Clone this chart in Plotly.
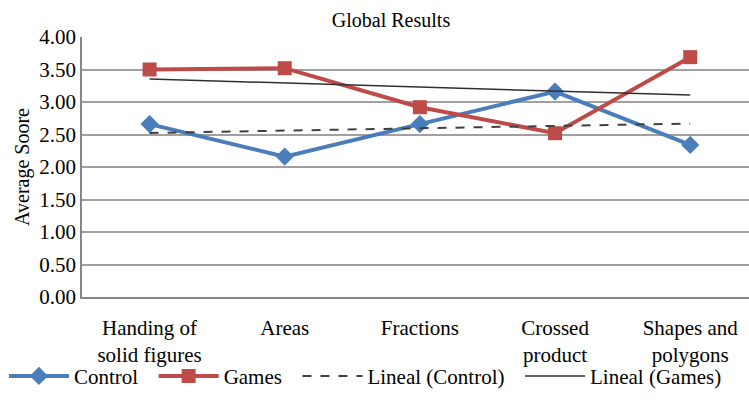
import numpy as np
import plotly.graph_objects as go

categories = ["Handing of<br>solid figures", "Areas", "Fractions", "Crossed<br>product", "Shapes and<br>polygons"]
series_names = ["Control", "Games", "Lineal (Control)", "Lineal (Games)"]
control = [2.66, 2.16, 2.66, 3.16, 2.34]
games = [3.50, 3.52, 2.92, 2.52, 3.69]
y_ticks = [0.0, 0.5, 1.0, 1.5, 2.0, 2.5, 3.0, 3.5, 4.0]

idx = np.arange(len(categories))

def linear_trend(values):
    slope, intercept = np.polyfit(idx, values, 1)
    return list(slope * idx + intercept)

# non-breaking spaces widen the gap between legend entries
PAD = "\u00a0\u00a0"
legend_names = [n + PAD for n in series_names[:3]] + [series_names[3]]

FONT = "Times New Roman, Liberation Serif, serif"
BLUE = "#4A7EBB"
RED = "#BE4B48"

fig = go.Figure()
fig.add_trace(go.Scatter(
    x=idx, y=control, name=legend_names[0], mode="lines+markers",
    line=dict(color=BLUE, width=4),
    marker=dict(symbol="diamond", size=14, color=BLUE),
))
fig.add_trace(go.Scatter(
    x=idx, y=games, name=legend_names[1], mode="lines+markers",
    line=dict(color=RED, width=4),
    marker=dict(symbol="square", size=14, color=RED),
))
fig.add_trace(go.Scatter(
    x=idx, y=linear_trend(control), name=legend_names[2], mode="lines",
    line=dict(color="#404040", width=2, dash="dash"),
))
fig.add_trace(go.Scatter(
    x=idx, y=linear_trend(games), name=legend_names[3], mode="lines",
    line=dict(color="#303030", width=1.5),
))

fig.update_layout(
    width=749, height=415,
    margin=dict(l=82, r=0, t=37, b=118),
    paper_bgcolor="white", plot_bgcolor="white",
    font=dict(family=FONT, color="black", size=21),
    title=dict(text="Global Results", x=391 / 749, xanchor="center",
               y=1 - 20 / 415, yanchor="middle",
               font=dict(family=FONT, size=20)),
    showlegend=True,
    legend=dict(orientation="h", x=-0.117, xanchor="left", y=-0.305, yanchor="middle",
                bgcolor="rgba(0,0,0,0)",
                font=dict(family=FONT, size=21), itemwidth=60, tracegroupgap=0),
    xaxis=dict(
        tickmode="array", tickvals=idx, ticktext=categories,
        range=[-0.5, 4.435], showgrid=False, zeroline=False,
        showline=True, linecolor="#868686", linewidth=1.5,
        ticks="", ticklabelstandoff=11, tickfont=dict(family=FONT, size=21),
    ),
    yaxis=dict(
        title=dict(text="Average Soore", font=dict(family=FONT, size=20), standoff=4),
        range=[0, 4], tickvals=y_ticks, tickformat=".2f",
        showgrid=True, gridcolor="#A0A0A0", gridwidth=1.5,
        showline=True, linecolor="#868686", linewidth=1.5,
        zeroline=False, ticks="", tickfont=dict(family=FONT, size=21),
    ),
)

fig.write_html("out.html")
